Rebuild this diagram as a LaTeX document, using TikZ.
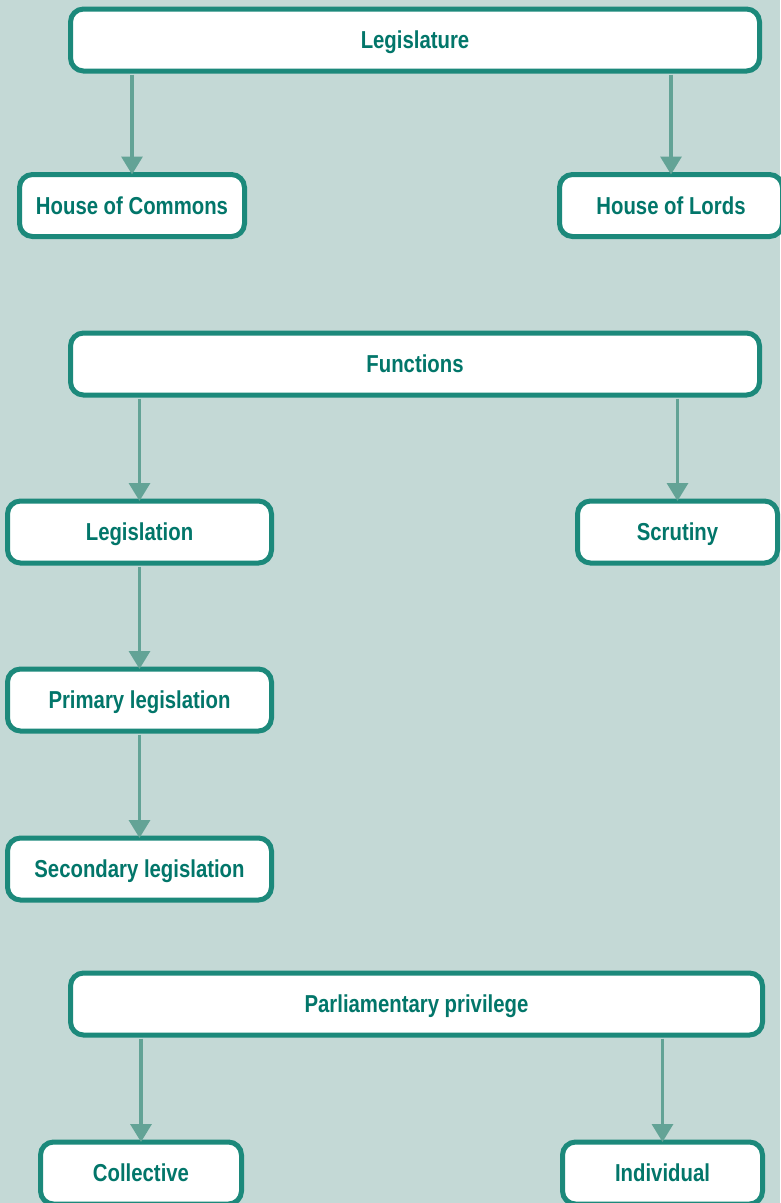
\documentclass[tikz,border=0pt]{standalone}
\usepackage{fontspec}
\setmainfont{Liberation Sans}[FakeStretch=0.83]
\usetikzlibrary{arrows.meta}
\definecolor{bgc}{HTML}{C4D9D6}
\definecolor{edgec}{HTML}{1C897B}
\definecolor{textc}{HTML}{02766A}
\definecolor{arrc}{HTML}{63A396}
\tikzset{
  box/.style={draw=edgec, line width=5pt, fill=white, rounded corners=13pt,
    minimum height=62pt, inner sep=0pt, text=textc,
    text height=17.5pt, text depth=0pt,
    font=\fontsize{24.5}{28}\selectfont\bfseries},
  link/.style={draw=arrc, line width=3.3pt,
    -{Triangle[width=21pt,length=18pt]}},
}
\begin{document}
\begin{tikzpicture}[x=1pt,y=-1pt]
  \fill[bgc] (0,0) rectangle (780,1203);
  \useasboundingbox (0,0) rectangle (780,1203);

  % Composition of the legislature
  \node[box, minimum width=689pt] (leg) at (415,40) {Legislature};
  \node[box, minimum width=225pt] (hoc) at (132,205.5) {House of Commons};
  \node[box, minimum width=223pt] (hol) at (671,205.5) {House of Lords};

  % Functions
  \node[box, minimum width=689pt] (fun) at (415,364) {Functions};
  \node[box, minimum width=264pt] (lgn) at (139.5,532) {Legislation};
  \node[box, minimum width=200pt] (scr) at (677.5,532) {Scrutiny};
  \node[box, minimum width=264pt] (pri) at (139.5,700) {Primary legislation};
  \node[box, minimum width=264pt] (sec) at (139.5,869) {Secondary legislation};

  % Privilege
  \node[box, minimum width=692pt] (par) at (416.5,1004) {Parliamentary privilege};
  \node[box, minimum width=201pt] (col) at (141,1173) {Collective};
  \node[box, minimum width=200pt] (ind) at (662.5,1173) {Individual};

  % Connectors: from the parent's lower edge to the child's upper border
  \draw[link] (hoc |- leg.south) ++(0,1) -- ([yshift=-2.5pt]hoc.north);
  \draw[link] (hol |- leg.south) ++(0,1) -- ([yshift=-2.5pt]hol.north);
  \draw[link] (lgn |- fun.south) ++(0,1) -- ([yshift=-2.5pt]lgn.north);
  \draw[link] (scr |- fun.south) ++(0,1) -- ([yshift=-2.5pt]scr.north);
  \draw[link] (lgn.south) ++(0,1) -- ([yshift=-2.5pt]pri.north);
  \draw[link] (pri.south) ++(0,1) -- ([yshift=-2.5pt]sec.north);
  \draw[link] (col |- par.south) ++(0,1) -- ([yshift=-2.5pt]col.north);
  \draw[link] (ind |- par.south) ++(0,1) -- ([yshift=-2.5pt]ind.north);
\end{tikzpicture}
\end{document}
